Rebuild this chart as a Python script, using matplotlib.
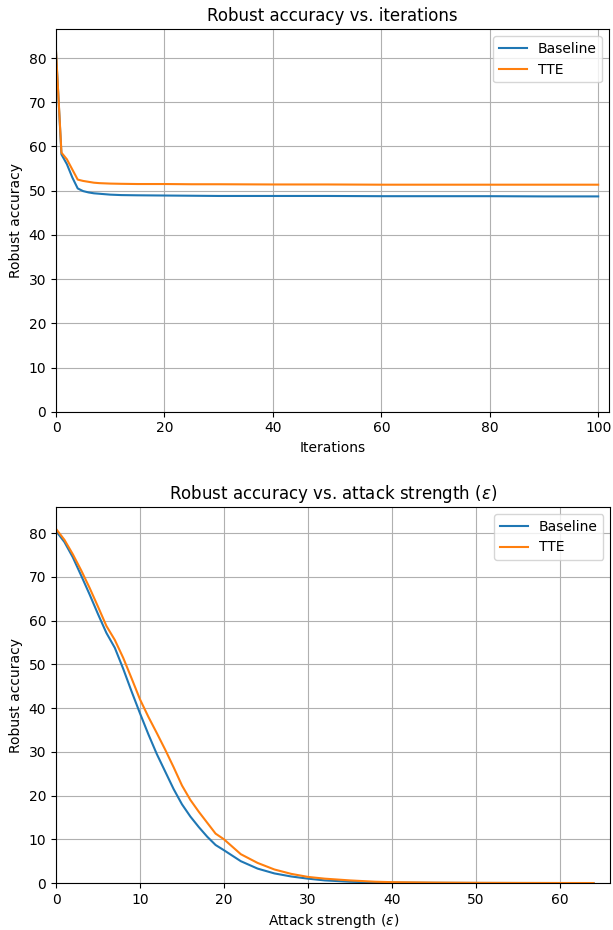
import matplotlib.pyplot as plt

# Datos: precision robusta vs iteraciones
iters = [0, 1, 2, 3, 4, 5, 6, 7, 8, 10, 12, 15, 20, 25, 30, 40, 50, 60, 70, 80, 90, 100]
base_iter = [81.3, 58.2, 56.0, 53.0, 50.5, 49.9, 49.6, 49.4, 49.3, 49.1, 49.0, 48.95,
             48.9, 48.85, 48.8, 48.8, 48.8, 48.75, 48.75, 48.75, 48.7, 48.7]
tte_iter = [81.5, 58.6, 57.1, 54.8, 52.5, 52.2, 52.0, 51.8, 51.7, 51.6, 51.55, 51.5,
            51.5, 51.45, 51.45, 51.4, 51.4, 51.35, 51.35, 51.35, 51.35, 51.35]

# Datos: precision robusta vs fuerza del ataque
eps = [0, 1, 2, 3, 4, 5, 6, 7, 8, 9, 10, 11, 12, 13, 14, 15, 16, 17, 18, 19, 20,
       22, 24, 26, 28, 30, 32, 35, 38, 40, 45, 50, 55, 60, 64]
base_eps = [80.5, 78.0, 74.5, 70.3, 66.0, 61.5, 57.2, 53.8, 49.0, 43.8, 38.8, 34.0,
            29.5, 25.5, 21.5, 18.0, 15.2, 12.8, 10.6, 8.7, 7.5, 5.0, 3.3, 2.2, 1.5,
            1.0, 0.6, 0.3, 0.15, 0.1, 0.05, 0.02, 0.01, 0.0, 0.0]
tte_eps = [81.0, 78.5, 75.2, 71.5, 67.5, 63.2, 58.8, 55.6, 51.5, 46.8, 42.0, 38.0,
           34.3, 30.5, 26.5, 22.3, 19.0, 16.3, 13.8, 11.3, 10.0, 6.6, 4.6, 3.1, 2.1,
           1.4, 1.0, 0.6, 0.3, 0.2, 0.1, 0.05, 0.02, 0.01, 0.0]

fig = plt.figure(figsize=(6.13, 9.3), dpi=100)

# ============================================================
# Grafico 1: iteraciones
# ============================================================
ax1 = fig.add_axes([0.0914, 0.5573, 0.9021, 0.4112])
ax1.plot(iters, base_iter, label="Baseline")
ax1.plot(iters, tte_iter, label="TTE")
ax1.set_xlim(0, 102)
ax1.set_ylim(0, 86.5)
ax1.set_title("Robust accuracy vs. iterations")
ax1.set_xlabel("Iterations")
ax1.set_ylabel("Robust accuracy")
ax1.grid(True)
ax1.legend(loc="upper right")

# ============================================================
# Grafico 2: fuerza del ataque
# ============================================================
ax2 = fig.add_axes([0.0914, 0.0505, 0.9042, 0.4043])
ax2.plot(eps, base_eps, label="Baseline")
ax2.plot(eps, tte_eps, label="TTE")
ax2.set_xlim(0, 66)
ax2.set_ylim(0, 86)
ax2.set_title(r"Robust accuracy vs. attack strength ($\epsilon$)")
ax2.set_xlabel(r"Attack strength ($\epsilon$)")
ax2.set_ylabel("Robust accuracy")
ax2.grid(True)
ax2.legend(loc="upper right")

fig.savefig("out.png", dpi=100)
plt.close()
